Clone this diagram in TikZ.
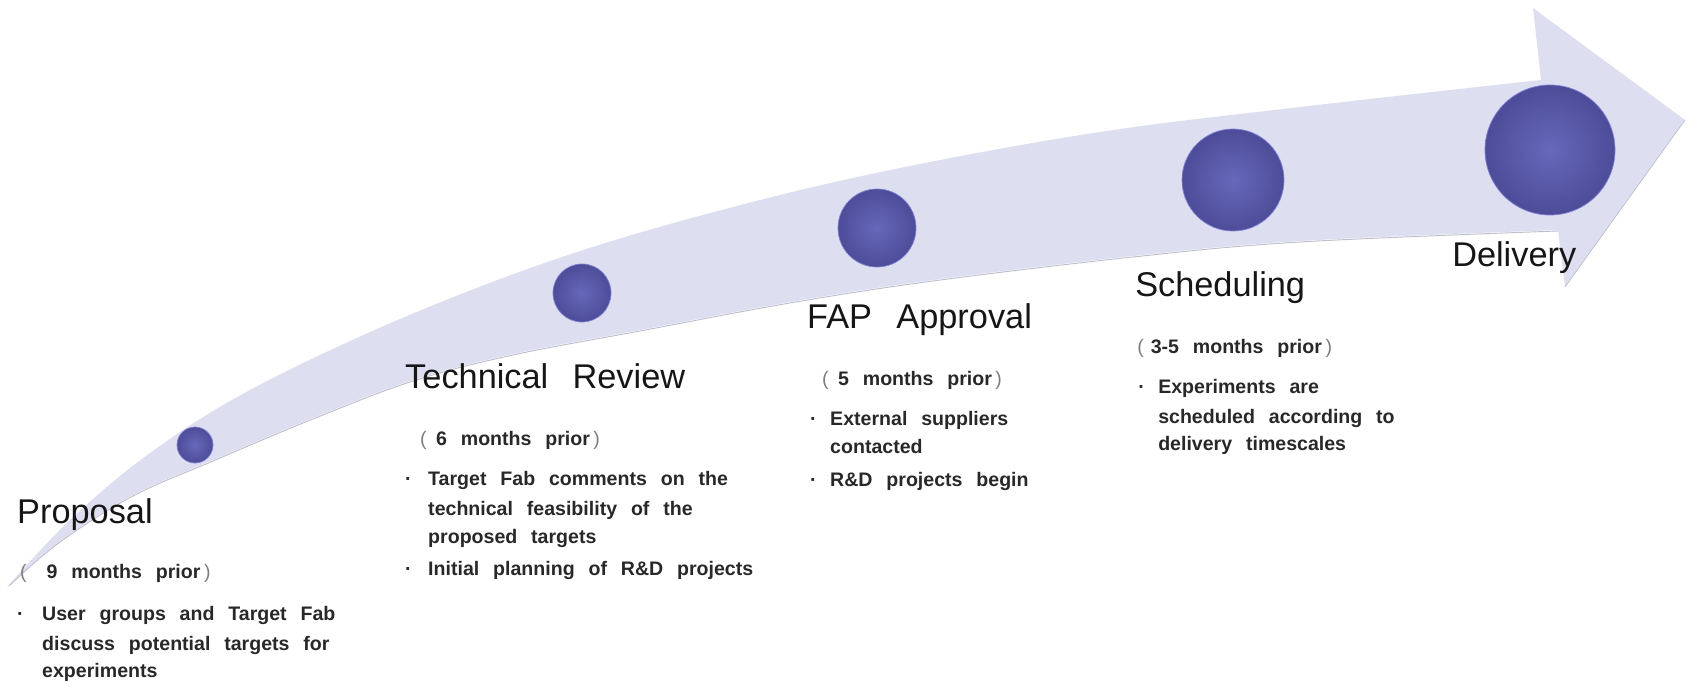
\documentclass[tikz,border=0pt]{standalone}
\usepackage{fontspec}
\setmainfont{Liberation Sans}
\newfontfamily\headfont[WordSpace=2.9]{Liberation Sans}
\newfontfamily\bodyfont[WordSpace=2.55]{Liberation Sans}

\definecolor{band}{RGB}{221,222,240}
\definecolor{bandedge}{RGB}{190,190,205}
\definecolor{orbin}{RGB}{104,104,188}
\definecolor{orbout}{RGB}{76,76,152}
\definecolor{orbedge}{RGB}{128,128,212}
\definecolor{ink}{RGB}{22,22,22}
\definecolor{bodyink}{RGB}{40,40,40}
\definecolor{parens}{RGB}{125,125,125}

\newcommand\openpar{\textcolor{parens}{\mdseries(}}
\newcommand\closepar{\textcolor{parens}{\mdseries)}}

\tikzset{
  head/.style={anchor=base west, inner sep=0pt, text=ink,
    font=\headfont\fontsize{29.3}{34}\selectfont},
  body/.style={anchor=base west, inner sep=0pt, text=bodyink,
    font=\bodyfont\bfseries\fontsize{16.7}{20}\selectfont},
  orb/.style={circle, inner sep=0pt, minimum size=#1, shading=radial,
    inner color=orbin, outer color=orbout, draw=orbedge, line width=0.6pt},
}

\begin{document}
\begin{tikzpicture}[x=0.03cm, y=-0.03cm]
\useasboundingbox (0,0) rectangle (1689,684);

% curved timeline arrow
\fill[band]
  plot[smooth, tension=0.6] coordinates {(7,587) (70,520) (150,453) (250,390)
     (400,319) (565,256) (733,207) (900,168) (1100,132) (1300,107) (1541,80)}
  -- (1533,8) -- (1685,120) -- (1565,287)
  -- plot[smooth, tension=0.6] coordinates {(1558,230) (1300,241) (1133,256)
     (933,280) (790,302) (640,330) (513,354) (413,380) (313,418) (213,460)
     (133,495) (60,541) (7,587)}
  -- cycle;
% soft edge along the underside and the head
\draw[bandedge, line width=0.8pt]
  plot[smooth, tension=0.6] coordinates {(1558,231) (1300,242) (1133,257)
     (933,281) (790,303) (640,331) (513,355) (413,381) (313,419) (213,461)
     (133,496) (60,542) (9,586)};
\draw[bandedge, line width=0.6pt] (1685,120) -- (1565,287);

% milestones on the arrow
\node[orb=1.08cm] (m1) at (195,445) {};
\node[orb=1.74cm] (m2) at (582,293) {};
\node[orb=2.34cm] (m3) at (877,228) {};
\node[orb=3.06cm] (m4) at (1233,180) {};
\node[orb=3.90cm] (m5) at (1550,150) {};

% Proposal
\node[head] (t1) at (17,523) {Proposal};
\node[body] (w1) at (20,578) {\openpar\hspace{17pt}9 months prior\hspace{3pt}\closepar};
\node[body] (b1a) at (17,620) {·};
\node[body] (l1a) at (42,620) {User groups and Target Fab};
\node[body] (l1b) at (42,650) {discuss potential targets for};
\node[body] (l1c) at (42,677) {experiments};

% Technical Review
\node[head] (t2) at (405,388) {Technical Review};
\node[body] (w2) at (420,445) {\openpar\hspace{8pt}6 months prior\hspace{3pt}\closepar};
\node[body] (b2a) at (405,485) {·};
\node[body] (l2a) at (428,485) {Target Fab comments on the};
\node[body] (l2b) at (428,515) {technical feasibility of the};
\node[body] (l2c) at (428,543) {proposed targets};
\node[body] (b2b) at (405,575) {·};
\node[body] (l2d) at (428,575) {Initial planning of R\&D projects};

% FAP Approval
\node[head] (t3) at (807,328) {FAP Approval};
\node[body] (w3) at (822,385) {\openpar\hspace{8pt}5 months prior\hspace{3pt}\closepar};
\node[body] (b3a) at (810,425) {·};
\node[body] (l3a) at (830,425) {External suppliers};
\node[body] (l3b) at (830,453) {contacted};
\node[body] (b3b) at (810,486) {·};
\node[body] (l3c) at (830,486) {R\&D projects begin};

% Scheduling
\node[head] (t4) at (1135,297) {Scheduling};
\node[body] (w4) at (1137,353) {\openpar\hspace{6pt}3-5 months prior\hspace{3pt}\closepar};
\node[body] (b4a) at (1138,393) {·};
\node[body] (l4a) at (1158,393) {Experiments are};
\node[body] (l4b) at (1158,423) {scheduled according to};
\node[body] (l4c) at (1158,450) {delivery timescales};

% Delivery
\node[head] (t5) at (1452,267) {Delivery};
\end{tikzpicture}
\end{document}
